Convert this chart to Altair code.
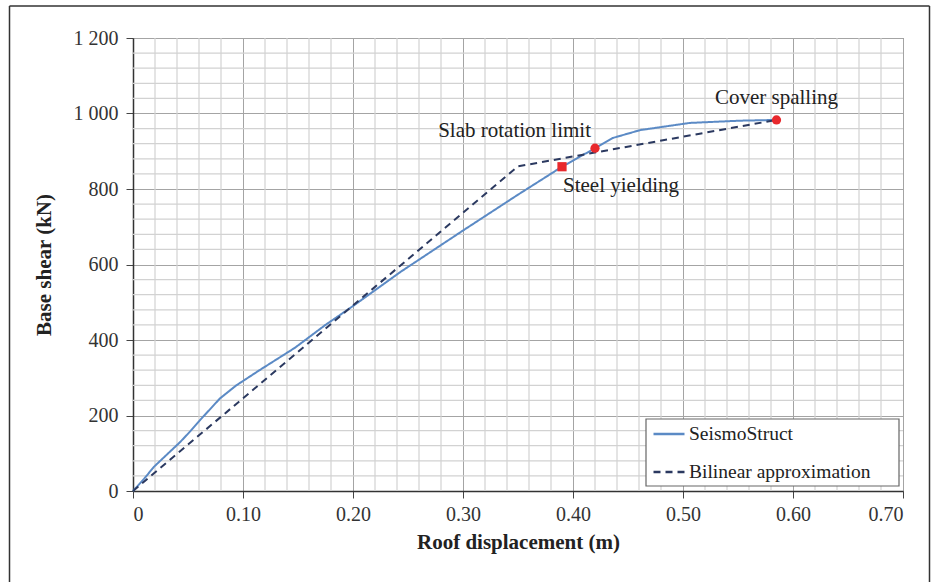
import altair as alt
import pandas as pd

# SeismoStruct pushover curve
seismo_x = [0, 0.01, 0.019, 0.043, 0.052, 0.061, 0.079, 0.094, 0.115, 0.147, 0.175,
            0.20, 0.243, 0.30, 0.35, 0.39, 0.42, 0.436, 0.461, 0.506, 0.552, 0.585]
seismo_y = [0, 32, 64, 130, 158, 188, 245, 280, 320, 379, 440,
            490, 580, 690, 785, 859, 908, 935, 956, 975, 981, 983]

# Bilinear approximation
bilin_x = [0, 0.35, 0.585]
bilin_y = [0, 860, 983]

# Performance points
pt_labels = ["Steel yielding", "Slab rotation limit", "Cover spalling"]
pt_x = [0.39, 0.42, 0.585]
pt_y = [859, 908, 983]
pt_shape = ["square", "circle", "circle"]

series_names = ["SeismoStruct", "Bilinear approximation"]

x_major = [0, 0.1, 0.2, 0.3, 0.4, 0.5, 0.6, 0.7]
y_major = [0, 200, 400, 600, 800, 1000, 1200]
x_minor = [round(i * 0.02, 2) for i in range(36) if i % 5 != 0]
y_minor = [i * 40 for i in range(31) if i % 5 != 0]

FONT = "Liberation Serif"

lines_df = pd.concat([
    pd.DataFrame({"x": seismo_x, "y": seismo_y, "series": series_names[0], "o": range(len(seismo_x))}),
    pd.DataFrame({"x": bilin_x, "y": bilin_y, "series": series_names[1], "o": range(len(bilin_x))}),
])
pts_df = pd.DataFrame({"x": pt_x, "y": pt_y, "label": pt_labels, "shape": pt_shape})

xs = alt.Scale(domain=[0, 0.7], nice=False, zero=False)
ys = alt.Scale(domain=[0, 1200], nice=False)

x_axis = alt.Axis(values=x_major, title="Roof displacement (m)",
                  labelExpr="datum.value == 0 ? '0' : format(datum.value, '.2f')",
                  labelFont=FONT, labelFontSize=20, labelColor="#333", labelPadding=6,
                  titleFont=FONT, titleFontSize=21, titleFontWeight="bold", titleColor="#222",
                  titlePadding=7, tickSize=7, tickColor="#444", domainColor="#333",
                  domainWidth=1.5, gridColor="#a4a4a4", gridWidth=1)
y_axis = alt.Axis(values=y_major, title="Base shear (kN)",
                  labelExpr="replace(format(datum.value, ','), ',', ' ')",
                  labelFont=FONT, labelFontSize=20, labelColor="#333", labelPadding=8,
                  titleFont=FONT, titleFontSize=21, titleFontWeight="bold", titleColor="#222",
                  titlePadding=19, tickSize=7, tickColor="#444", domainColor="#333",
                  domainWidth=1.5, gridColor="#a4a4a4", gridWidth=1)

minor_v = alt.Chart(pd.DataFrame({"x": x_minor})).mark_rule(color="#d2d2d2", strokeWidth=1.2).encode(
    x=alt.X("x:Q", scale=xs, axis=x_axis))
minor_h = alt.Chart(pd.DataFrame({"y": y_minor})).mark_rule(color="#d2d2d2", strokeWidth=1.2).encode(
    y=alt.Y("y:Q", scale=ys, axis=y_axis))

# legend box (decoration)
legend_box = alt.Chart(pd.DataFrame({"a": [0]})).mark_rect(
    fill="white", stroke="#666", strokeWidth=1.2, clip=False).encode(
    x=alt.value(513), x2=alt.value(766), y=alt.value(381), y2=alt.value(448))

lines = alt.Chart(lines_df).mark_line(strokeWidth=2).encode(
    x=alt.X("x:Q", scale=xs, axis=x_axis),
    y=alt.Y("y:Q", scale=ys, axis=y_axis),
    order="o:Q",
    color=alt.Color("series:N", scale=alt.Scale(domain=series_names, range=["#5b8ac5", "#2b3960"]),
                    legend=alt.Legend(title=None, orient="none", legendX=513, legendY=381,
                                      labelFont=FONT, labelFontSize=19.5, labelColor="#222",
                                      symbolType="stroke", symbolSize=961, symbolStrokeWidth=2.5,
                                      clipHeight=18, rowPadding=18, padding=6, labelOffset=3,
                                      strokeColor="transparent", labelLimit=400)),
    strokeDash=alt.StrokeDash("series:N", scale=alt.Scale(domain=series_names, range=[[1, 0], [7, 5]]),
                              legend=None),
)

markers = alt.Chart(pts_df).mark_point(filled=True, color="#e8282c", opacity=1, size=85).encode(
    x=alt.X("x:Q", scale=xs), y=alt.Y("y:Q", scale=ys),
    shape=alt.Shape("shape:N", scale=alt.Scale(domain=["square", "circle"], range=["square", "circle"]), legend=None),
)

txt_base = alt.Chart(pts_df)
t_steel = txt_base.transform_filter(alt.datum.label == "Steel yielding").mark_text(
    font=FONT, fontSize=21, color="#222", align="left", baseline="middle", dx=1, dy=19).encode(
    x=alt.X("x:Q", scale=xs), y=alt.Y("y:Q", scale=ys), text="label:N")
t_slab = txt_base.transform_filter(alt.datum.label == "Slab rotation limit").mark_text(
    font=FONT, fontSize=21, color="#222", align="right", baseline="middle", dx=-4, dy=-17).encode(
    x=alt.X("x:Q", scale=xs), y=alt.Y("y:Q", scale=ys), text="label:N")
t_cover = txt_base.transform_filter(alt.datum.label == "Cover spalling").mark_text(
    font=FONT, fontSize=21, color="#222", align="center", baseline="middle", dx=0, dy=-22).encode(
    x=alt.X("x:Q", scale=xs), y=alt.Y("y:Q", scale=ys), text="label:N")

frame_style = dict(color="#333", strokeWidth=1.5, clip=False)
frame_l = alt.Chart(pd.DataFrame({"a": [0]})).mark_rule(**frame_style).encode(
    x=alt.value(-123.5), y=alt.value(-32), y2=alt.value(560))
frame_r = alt.Chart(pd.DataFrame({"a": [0]})).mark_rule(**frame_style).encode(
    x=alt.value(796.5), y=alt.value(-32), y2=alt.value(560))
frame_t = alt.Chart(pd.DataFrame({"a": [0]})).mark_rule(**frame_style).encode(
    x=alt.value(-123.5), x2=alt.value(796.5), y=alt.value(-32))

chart = alt.layer(minor_v, minor_h, lines, markers, t_steel, t_slab, t_cover, legend_box,
                  frame_l, frame_r, frame_t).properties(
    width=770, height=453,
    autosize=alt.AutoSizeParams(type="none"),
    padding={"left": 133, "top": 38, "right": 35, "bottom": 91},
    background="white",
).configure_view(stroke="#666", strokeWidth=1)

chart.save("out.html", embed_options={"renderer": "svg", "actions": False})
